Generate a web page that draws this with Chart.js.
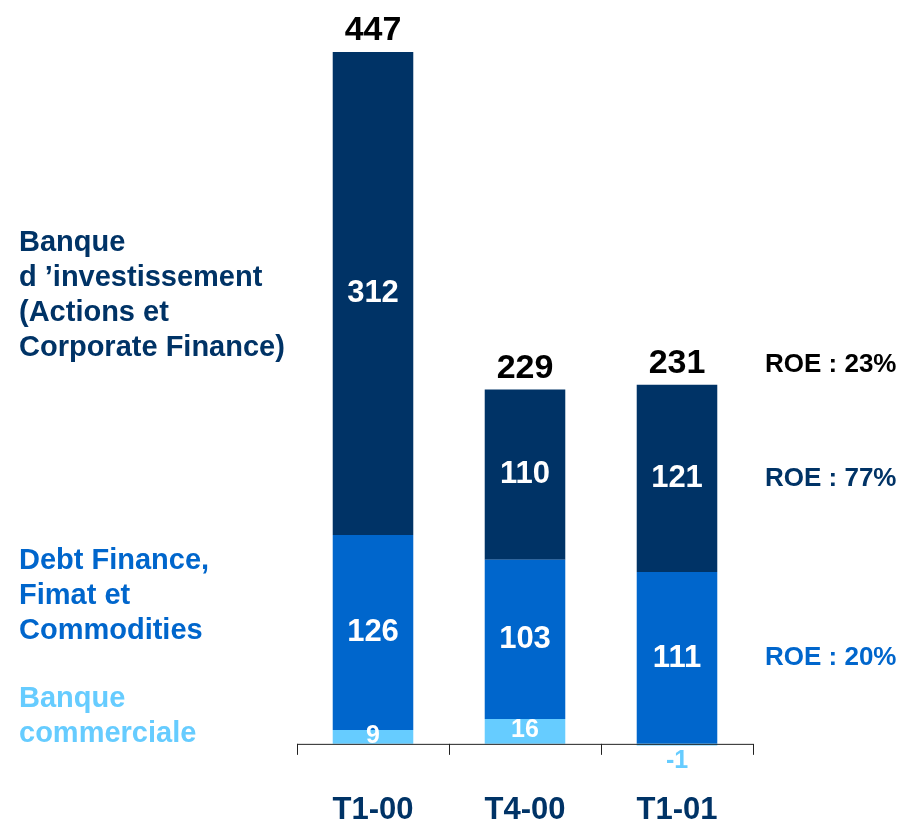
<!DOCTYPE html>
<html>
<head>
<meta charset="utf-8">
<script src="https://cdn.jsdelivr.net/npm/chart.js@4/dist/chart.umd.min.js"></script>
<style>
  body { margin: 0; background: #fff; }
</style>
</head>
<body>
<canvas id="barChart" width="906" height="821"></canvas>
<script>
const quarters = ['T1-00', 'T4-00', 'T1-01'];
const commercial = [9, 16, -1];
const debtFinance = [126, 103, 111];
const investment = [312, 110, 121];
const roe = ['ROE : 20%', 'ROE : 77%', 'ROE : 23%']; // debt, investment, total

const navy = '#003366';
const blue = '#0066CC';
const light = '#66CCFF';
const font = '"Liberation Sans", Arial, sans-serif';

// labels inside bars, totals, side legend and ROE notes
const labelsPlugin = {
    id: 'labels',
    afterDatasetsDraw(chart) {
        const c = chart.ctx;
        const y = chart.scales.y;
        const area = chart.chartArea;
        const zero = y.getPixelForValue(0);

        // axis line with category ticks
        c.save();
        c.strokeStyle = '#222';
        c.lineWidth = 1;
        c.beginPath();
        c.moveTo(area.left, zero + 0.5);
        c.lineTo(area.right, zero + 0.5);
        const step = (area.right - area.left) / quarters.length;
        for (let i = 0; i <= quarters.length; i++) {
            const x = Math.round(area.left + i * step) + 0.5;
            c.moveTo(x, zero);
            c.lineTo(x, zero + 11);
        }
        c.stroke();

        c.textAlign = 'center';
        c.textBaseline = 'middle';
        chart.data.datasets.forEach((ds, d) => {
            const meta = chart.getDatasetMeta(d);
            meta.data.forEach((bar, i) => {
                const v = ds.data[i];
                if (v < 0) {
                    c.fillStyle = light;
                    c.font = 'bold 25px ' + font;
                    c.fillText(String(v), bar.x, zero + 17);
                } else if (d === 0) {
                    c.fillStyle = '#fff';
                    c.font = 'bold 25px ' + font;
                    c.fillText(String(v), bar.x, (bar.y + bar.base) / 2 - 1);
                } else {
                    c.fillStyle = '#fff';
                    c.font = 'bold 31px ' + font;
                    c.fillText(String(v), bar.x, (bar.y + bar.base) / 2);
                }
            });
        });

        // totals above bars
        const top = chart.getDatasetMeta(2).data;
        c.fillStyle = '#000';
        c.font = 'bold 34px ' + font;
        quarters.forEach((q, i) => {
            const total = commercial[i] + debtFinance[i] + investment[i];
            c.fillText(String(total), top[i].x, top[i].y - 21);
        });

        // ROE notes next to last bar
        const last = quarters.length - 1;
        const dBar = chart.getDatasetMeta(1).data[last];
        const iBar = chart.getDatasetMeta(2).data[last];
        c.textAlign = 'left';
        c.font = 'bold 26px ' + font;
        c.fillStyle = blue;
        c.fillText(roe[0], 765, (dBar.y + dBar.base) / 2);
        c.fillStyle = navy;
        c.fillText(roe[1], 765, (iBar.y + iBar.base) / 2);
        c.fillStyle = '#000';
        c.fillText(roe[2], 765, iBar.y - 20);

        // side legend
        c.font = 'bold 29px ' + font;
        const legend = [
            [navy, ['Banque', 'd \u2019investissement', '(Actions et', 'Corporate Finance)'], 243],
            [blue, ['Debt Finance,', 'Fimat et', 'Commodities'], 561],
            [light, ['Banque', 'commerciale'], 699]
        ];
        legend.forEach(([col, lines, y0]) => {
            c.fillStyle = col;
            lines.forEach((t, k) => c.fillText(t, 19, y0 + k * 35));
        });
        c.restore();
    }
};

new Chart(document.getElementById('barChart'), {
    type: 'bar',
    data: {
        labels: quarters,
        datasets: [
            { label: 'Banque commerciale', data: commercial, backgroundColor: light },
            { label: 'Debt Finance, Fimat et Commodities', data: debtFinance, backgroundColor: blue },
            { label: "Banque d'investissement", data: investment, backgroundColor: navy }
        ]
    },
    options: {
        responsive: false,
        animation: false,
        layout: { padding: { left: 297, right: 153, top: 32, bottom: -25 } },
        datasets: { bar: { barPercentage: 0.53, categoryPercentage: 1 } },
        plugins: { legend: { display: false }, tooltip: { enabled: false } },
        scales: {
            x: {
                stacked: true,
                grid: { display: false, drawTicks: false },
                border: { display: false },
                ticks: { color: navy, padding: 17, font: { family: font, size: 31, weight: 'bold' } }
            },
            y: {
                stacked: true,
                display: false,
                min: -20,
                max: 460
            }
        }
    },
    plugins: [labelsPlugin]
});
</script>
</body>
</html>
